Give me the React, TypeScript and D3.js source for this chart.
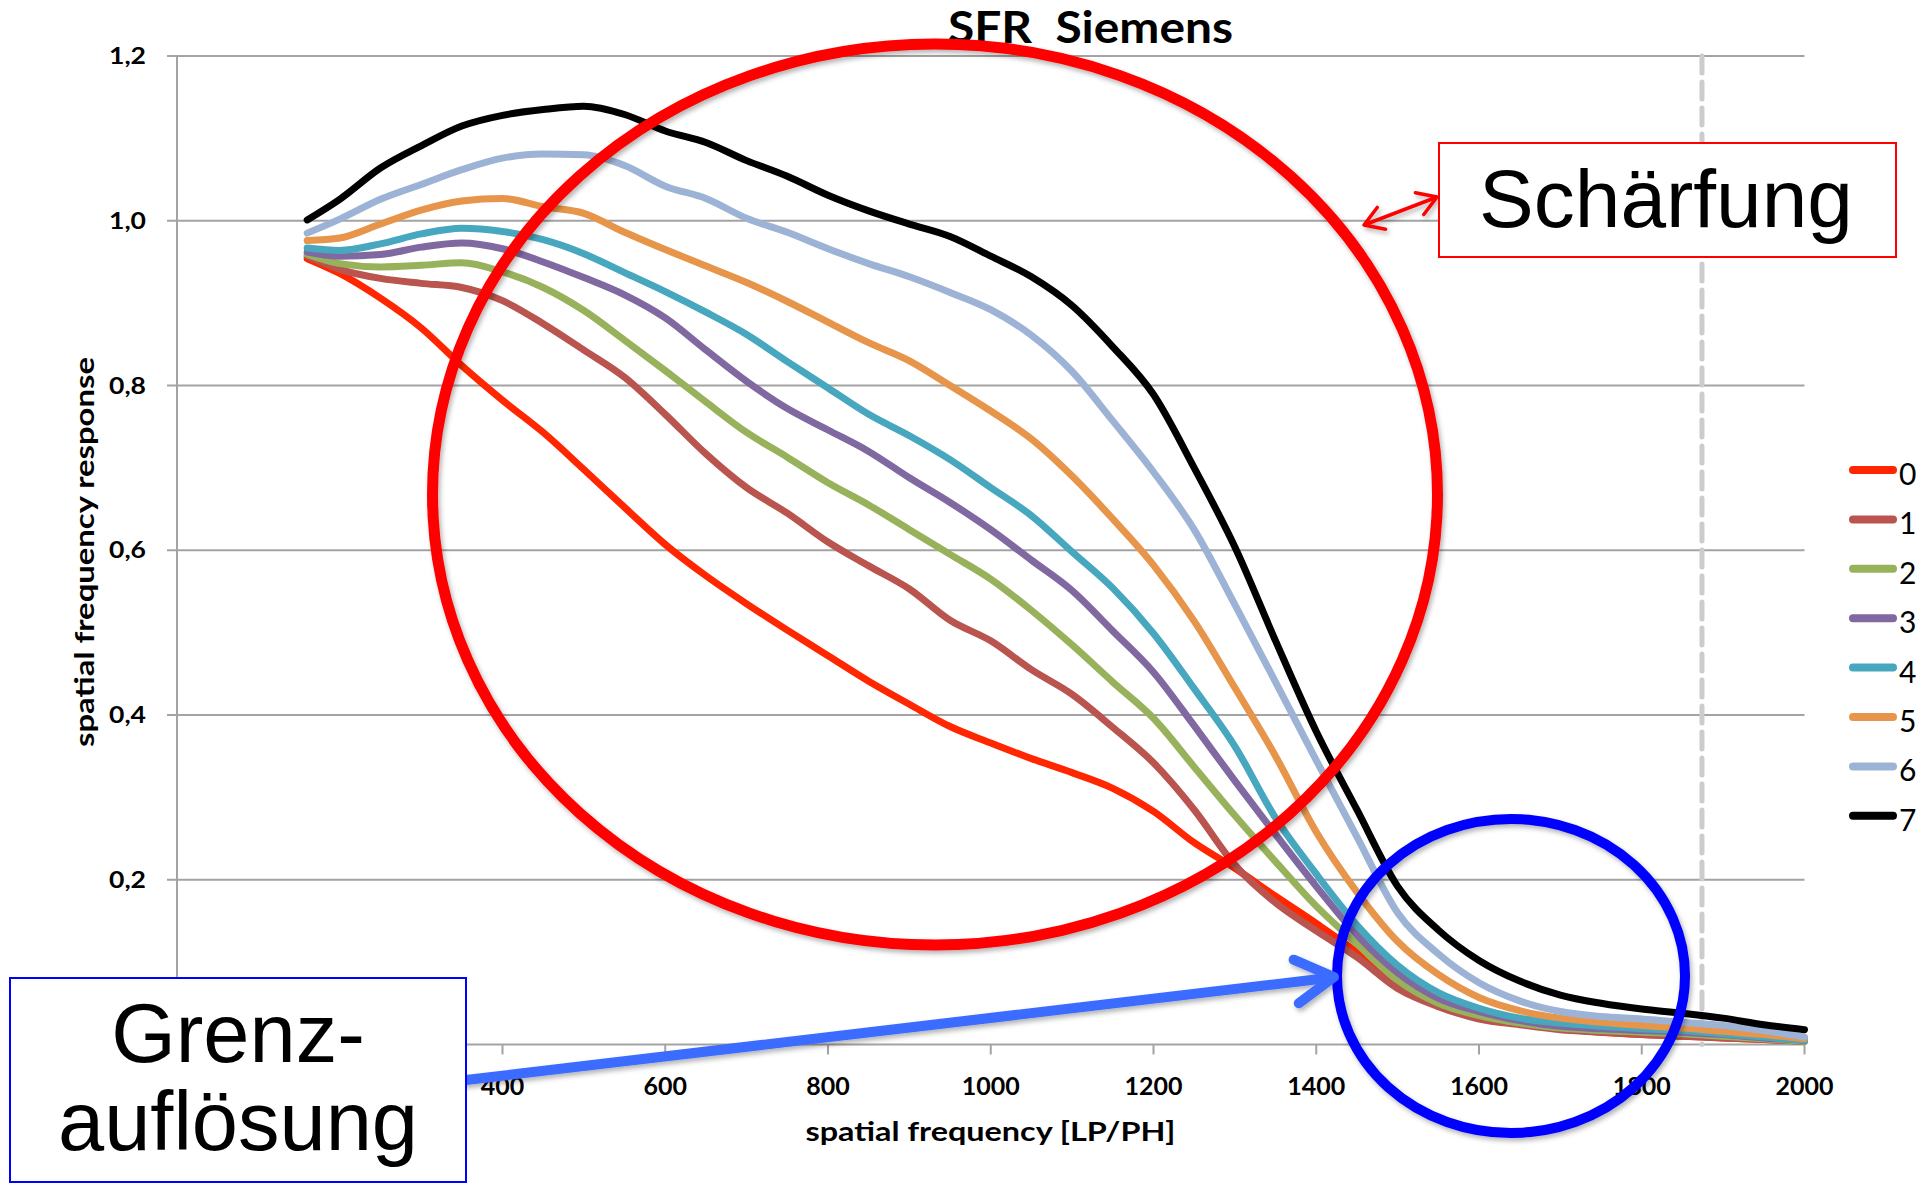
import * as d3 from "d3";

// spatial frequency [LP/PH]
const freq = [
  160, 200, 250, 300, 350, 400, 450, 500, 550, 600, 650, 700, 750, 800, 850, 900, 950, 1000, 1050,
  1100, 1150, 1200, 1250, 1300, 1350, 1400, 1450, 1500, 1550, 1600, 1650, 1700, 1750, 1800, 1850,
  1900, 1950, 2000,
];

// SFR per sharpening level 0..7
const sfr0 = [
  0.954, 0.936, 0.906, 0.87, 0.824, 0.782, 0.743, 0.698, 0.652, 0.607, 0.569, 0.535, 0.503, 0.472,
  0.441, 0.413, 0.386, 0.366, 0.347, 0.33, 0.311, 0.283, 0.245, 0.214, 0.18, 0.147, 0.112, 0.072,
  0.05, 0.034, 0.026, 0.019, 0.015, 0.012, 0.01, 0.008, 0.006, 0.004,
];
const sfr1 = [
  0.957, 0.941, 0.93, 0.924, 0.919, 0.903, 0.875, 0.843, 0.81, 0.765, 0.717, 0.676, 0.645, 0.61,
  0.581, 0.553, 0.515, 0.49, 0.455, 0.425, 0.385, 0.342, 0.285, 0.218, 0.172, 0.138, 0.106, 0.068,
  0.046, 0.031, 0.024, 0.018, 0.015, 0.012, 0.01, 0.008, 0.006, 0.004,
];
const sfr2 = [
  0.959, 0.948, 0.944, 0.946, 0.949, 0.938, 0.919, 0.891, 0.855, 0.818, 0.78, 0.743, 0.713, 0.682,
  0.655, 0.625, 0.595, 0.565, 0.527, 0.485, 0.44, 0.396, 0.337, 0.278, 0.222, 0.168, 0.122, 0.078,
  0.05, 0.035, 0.026, 0.02, 0.017, 0.015, 0.013, 0.01, 0.007, 0.004,
];
const sfr3 = [
  0.962, 0.957, 0.959, 0.968, 0.973, 0.966, 0.95, 0.931, 0.91, 0.882, 0.843, 0.805, 0.772, 0.746,
  0.72, 0.688, 0.658, 0.625, 0.588, 0.551, 0.502, 0.452, 0.387, 0.32, 0.255, 0.192, 0.133, 0.087,
  0.056, 0.04, 0.029, 0.022, 0.019, 0.017, 0.015, 0.012, 0.008, 0.005,
];
const sfr4 = [
  0.967, 0.964, 0.972, 0.984, 0.991, 0.987, 0.977, 0.96, 0.937, 0.914, 0.889, 0.862, 0.829, 0.797,
  0.765, 0.739, 0.71, 0.676, 0.642, 0.598, 0.554, 0.499, 0.432, 0.362, 0.275, 0.207, 0.145, 0.096,
  0.063, 0.044, 0.032, 0.026, 0.022, 0.019, 0.017, 0.013, 0.009, 0.005,
];
const sfr5 = [
  0.976, 0.979, 0.996, 1.013, 1.024, 1.027, 1.017, 1.009, 0.986, 0.965, 0.945, 0.925, 0.902, 0.877,
  0.852, 0.83, 0.8, 0.769, 0.735, 0.69, 0.638, 0.582, 0.514, 0.433, 0.35, 0.258, 0.185, 0.125,
  0.085, 0.057, 0.041, 0.032, 0.027, 0.023, 0.02, 0.016, 0.012, 0.007,
];
const sfr6 = [
  0.985, 1.002, 1.026, 1.044, 1.062, 1.076, 1.081, 1.08, 1.067, 1.042, 1.027, 1.003, 0.986, 0.966,
  0.948, 0.932, 0.913, 0.892, 0.861, 0.817, 0.757, 0.695, 0.625, 0.534, 0.44, 0.345, 0.252, 0.16,
  0.11, 0.075, 0.053, 0.04, 0.034, 0.031, 0.027, 0.023, 0.017, 0.009,
];
const sfr7 = [
  1.001, 1.026, 1.064, 1.091, 1.115, 1.128, 1.135, 1.139, 1.129, 1.109, 1.095, 1.073, 1.054, 1.031,
  1.012, 0.996, 0.981, 0.957, 0.932, 0.897, 0.847, 0.789, 0.7, 0.604, 0.49, 0.38, 0.285, 0.192,
  0.139, 0.102, 0.077, 0.06, 0.05, 0.043, 0.038, 0.032, 0.024, 0.018,
];

const seriesNames = ["0", "1", "2", "3", "4", "5", "6", "7"];
const seriesColors = [
  "#ff2600",
  "#b9544f",
  "#98b25c",
  "#8068a0",
  "#47a7bf",
  "#e6954a",
  "#9db3d5",
  "#000000",
];

const xTicks = [0, 200, 400, 600, 800, 1000, 1200, 1400, 1600, 1800, 2000];
const yTicks = [0, 0.2, 0.4, 0.6, 0.8, 1.0, 1.2];
const limitFreq = 1874; // dashed marker

const W = 1930;
const H = 1184;

// chevron arrow head: tip, direction from "from" point
function chevron(tip: [number, number], from: [number, number], len: number, deg: number) {
  const a = Math.atan2(from[1] - tip[1], from[0] - tip[0]);
  const r = (deg * Math.PI) / 180;
  const p1 = [tip[0] + len * Math.cos(a + r), tip[1] + len * Math.sin(a + r)];
  const p2 = [tip[0] + len * Math.cos(a - r), tip[1] + len * Math.sin(a - r)];
  return `M${p1[0]},${p1[1]}L${tip[0]},${tip[1]}L${p2[0]},${p2[1]}`;
}

export default function App() {
  const x = d3.scaleLinear().domain([0, 2000]).range([177, 1804.5]);
  const y = d3.scaleLinear().domain([0, 1.2]).range([1044.5, 56]);
  const series = [sfr0, sfr1, sfr2, sfr3, sfr4, sfr5, sfr6, sfr7];

  const line = d3
    .line<number>()
    .x((_, i) => x(freq[i]))
    .y((d) => y(d))
    .curve(d3.curveMonotoneX);

  const fmt = (v: number) => d3.format(".1f")(v).replace(".", ",");

  const tickFont = "Lato, 'Open Sans', sans-serif";
  const boxFont = "'Liberation Sans', Arial, sans-serif";

  // annotations
  const blueFrom: [number, number] = [466, 1080];
  const blueTip: [number, number] = [1334, 977];
  const redA: [number, number] = [1364, 225];
  const redB: [number, number] = [1437, 197];

  return (
    <svg
      width={W}
      height={H}
      style={{ position: "absolute", left: 0, top: 0, display: "block", background: "#fff" }}
    >
      <defs>
        <filter id="shadow" x="-10%" y="-10%" width="120%" height="120%">
          <feDropShadow dx="2" dy="3" stdDeviation="2.5" floodColor="#000" floodOpacity="0.3" />
        </filter>
      </defs>
      <rect width={W} height={H} fill="#fff" />

      {/* title */}
      <text
        x={1090.5}
        y={43}
        textAnchor="middle"
        fontFamily={tickFont}
        fontWeight="bold"
        fontSize={44}
        textLength={285}
        lengthAdjust="spacingAndGlyphs"
        fill="#000"
        style={{ whiteSpace: "pre" }}
      >
        SFR  Siemens
      </text>

      {/* grid */}
      {yTicks.map((t) => (
        <g key={"gy" + t}>
          {t > 0 && (
            <line x1={x(0)} x2={x(2000)} y1={y(t)} y2={y(t)} stroke="#a3a3a3" strokeWidth={2} />
          )}
          <line x1={x(0) - 10} x2={x(0)} y1={y(t)} y2={y(t)} stroke="#a3a3a3" strokeWidth={2} />
          <text
            x={146}
            y={y(t) + 8}
            textAnchor="end"
            fontFamily={tickFont}
            fontWeight="bold"
            fontSize={22}
            textLength={37}
            lengthAdjust="spacingAndGlyphs"
            fill="#000"
          >
            {fmt(t)}
          </text>
        </g>
      ))}
      {/* axes */}
      <line x1={x(0)} x2={x(0)} y1={y(1.2)} y2={y(0)} stroke="#a3a3a3" strokeWidth={2} />
      <line x1={x(0)} x2={x(2000)} y1={y(0)} y2={y(0)} stroke="#a3a3a3" strokeWidth={2} />
      {xTicks.map((t) => (
        <g key={"gx" + t}>
          <line x1={x(t)} x2={x(t)} y1={y(0)} y2={y(0) + 10} stroke="#a3a3a3" strokeWidth={2} />
          <text
            x={x(t)}
            y={1095}
            textAnchor="middle"
            fontFamily={tickFont}
            fontWeight="bold"
            fontSize={25}
            fill="#000"
          >
            {t}
          </text>
        </g>
      ))}

      {/* limit marker */}
      <line
        x1={x(limitFreq)}
        x2={x(limitFreq)}
        y1={y(1.2)}
        y2={y(0)}
        stroke="#cccccc"
        strokeWidth={5}
        strokeDasharray="17 9"
        strokeLinecap="round"
      />

      {/* axis titles */}
      <text
        x={990.5}
        y={1141}
        textAnchor="middle"
        fontFamily={tickFont}
        fontWeight="bold"
        fontSize={26}
        textLength={370}
        lengthAdjust="spacingAndGlyphs"
        fill="#000"
      >
        spatial frequency [LP/PH]
      </text>
      <text
        transform={`translate(94,552) rotate(-90)`}
        textAnchor="middle"
        fontFamily={tickFont}
        fontWeight="bold"
        fontSize={26}
        textLength={390}
        lengthAdjust="spacingAndGlyphs"
        fill="#000"
      >
        spatial frequency response
      </text>

      {/* series */}
      {series.map((s, i) => (
        <path
          key={"s" + i}
          d={line(s) ?? ""}
          fill="none"
          stroke={seriesColors[i]}
          strokeWidth={7}
          strokeLinejoin="round"
          strokeLinecap="round"
        />
      ))}

      {/* legend */}
      {seriesNames.map((n, i) => {
        const ly = 470 + i * 49.4;
        return (
          <g key={"lg" + n}>
            <line
              x1={1853}
              x2={1893}
              y1={ly}
              y2={ly}
              stroke={seriesColors[i]}
              strokeWidth={8}
              strokeLinecap="round"
            />
            <text x={1899} y={ly + 15} fontFamily={tickFont} fontSize={30} fill="#000">
              {n}
            </text>
          </g>
        );
      })}

      {/* Schärfung annotation */}
      <g filter="url(#shadow)">
        <ellipse
          cx={935}
          cy={494.5}
          rx={502.5}
          ry={450.5}
          fill="none"
          stroke="#ff0000"
          strokeWidth={11}
        />
        <path d={`M${redA[0]},${redA[1]}L${redB[0]},${redB[1]}`} stroke="#ff0000" strokeWidth={3.5} />
        <path
          d={chevron(redB, redA, 22, 32)}
          fill="none"
          stroke="#ff0000"
          strokeWidth={3.5}
          strokeLinecap="round"
          strokeLinejoin="round"
        />
        <path
          d={chevron(redA, redB, 22, 32)}
          fill="none"
          stroke="#ff0000"
          strokeWidth={3.5}
          strokeLinecap="round"
          strokeLinejoin="round"
        />
      </g>
      <rect x={1439} y={143} width={457} height={114} fill="#fff" stroke="#ff0000" strokeWidth={2} />
      <text x={1666} y={227} textAnchor="middle" fontFamily={boxFont} fontSize={82} fill="#000">
        Schärfung
      </text>

      {/* Grenzauflösung annotation */}
      <g filter="url(#shadow)">
        <ellipse
          cx={1511}
          cy={976}
          rx={174}
          ry={157}
          fill="none"
          stroke="#0000ff"
          strokeWidth={10}
        />
        <path
          d={`M${blueFrom[0]},${blueFrom[1]}L${blueTip[0] - 6},${blueTip[1] + 1}`}
          stroke="#3a6cff"
          strokeWidth={10}
          strokeLinecap="round"
        />
        <path
          d={chevron(blueTip, blueFrom, 44, 30)}
          fill="none"
          stroke="#3a6cff"
          strokeWidth={10}
          strokeLinecap="round"
          strokeLinejoin="round"
        />
      </g>
      <rect x={10} y={978} width={456} height={204} fill="#fff" stroke="#0000ff" strokeWidth={2} />
      <text x={238} y={1062} textAnchor="middle" fontFamily={boxFont} fontSize={83} fill="#000">
        Grenz-
      </text>
      <text x={238} y={1150} textAnchor="middle" fontFamily={boxFont} fontSize={83} fill="#000">
        auflösung
      </text>
    </svg>
  );
}
